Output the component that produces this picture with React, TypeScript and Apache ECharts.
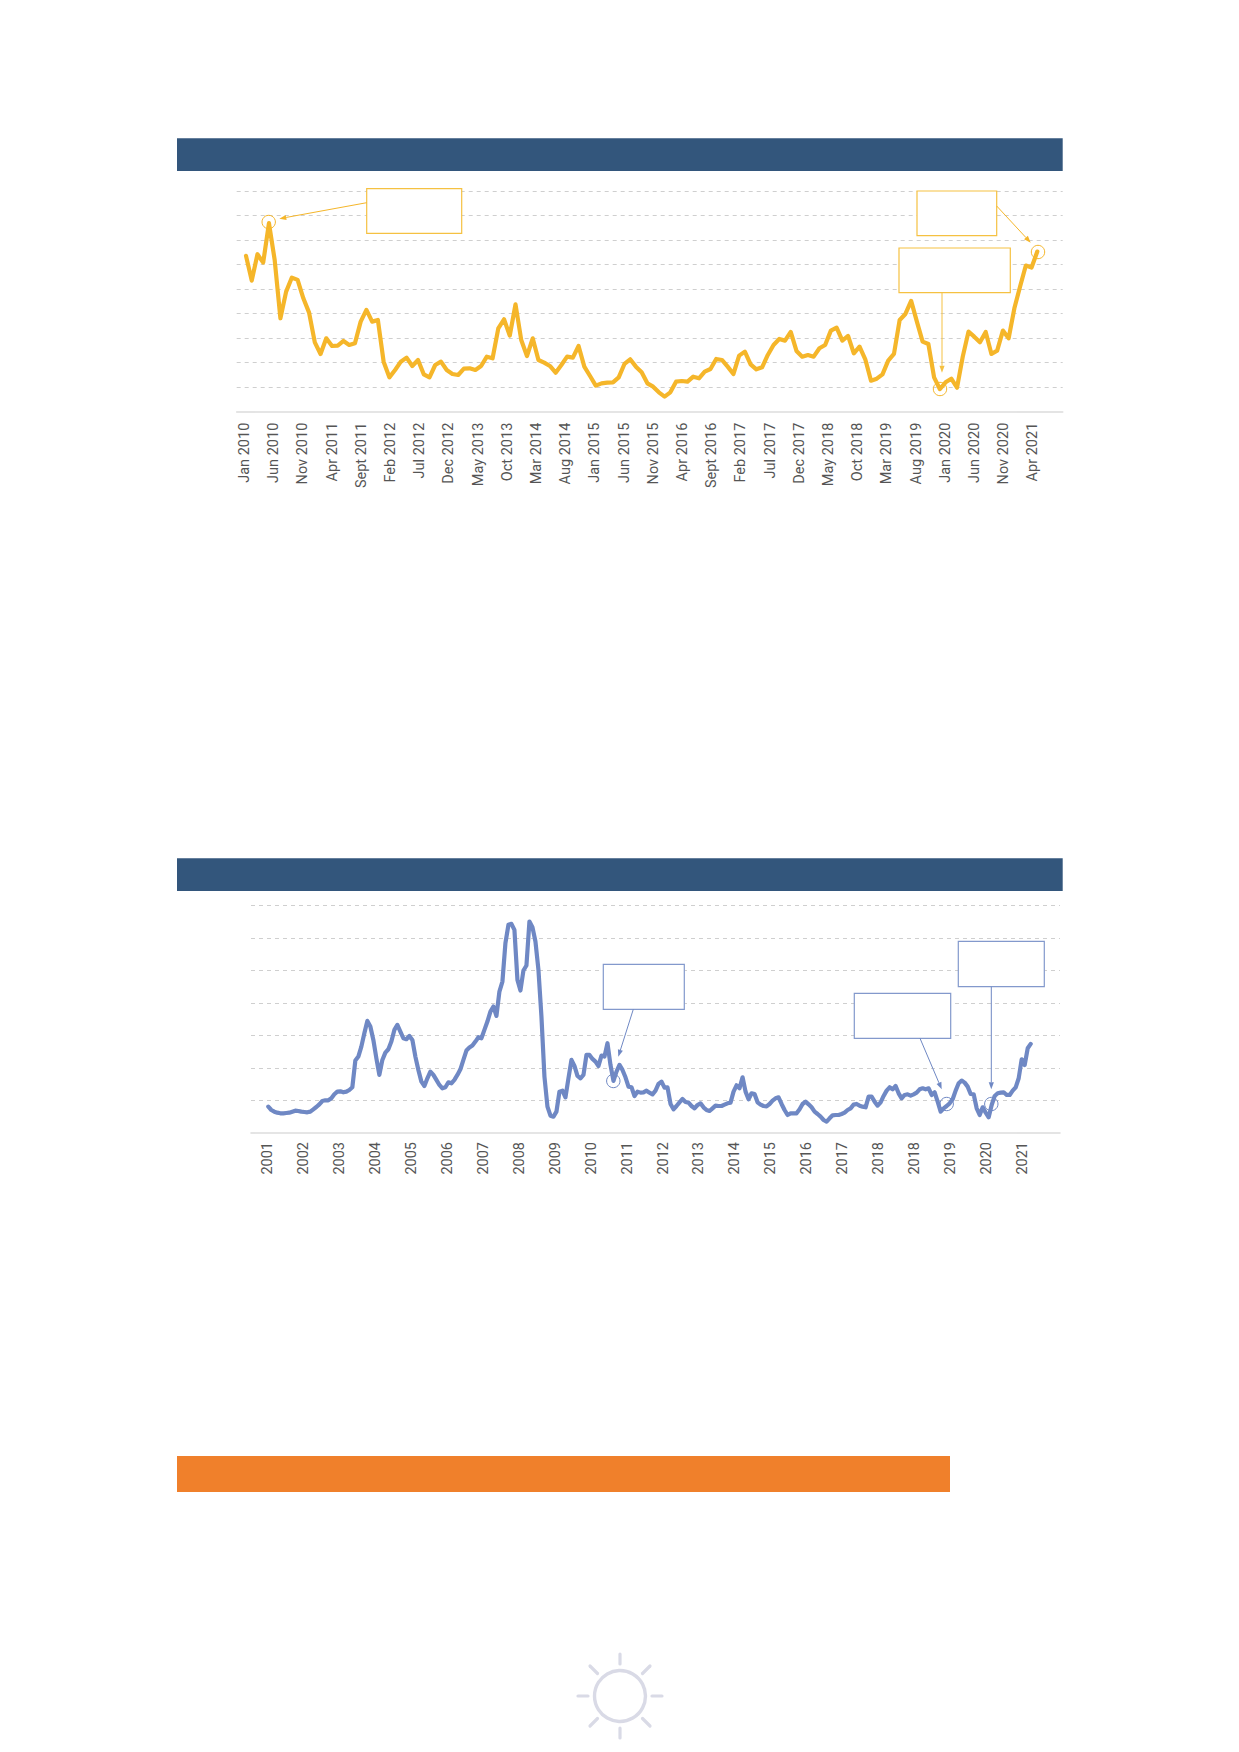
import React, { useEffect, useRef } from "react";
import * as echarts from "echarts";

const priceMonths = ["Jan 2010","Jun 2010","Nov 2010","Apr 2011","Sept 2011","Feb 2012","Jul 2012","Dec 2012","May 2013","Oct 2013","Mar 2014","Aug 2014","Jan 2015","Jun 2015","Nov 2015","Apr 2016","Sept 2016","Feb 2017","Jul 2017","Dec 2017","May 2018","Oct 2018","Mar 2019","Aug 2019","Jan 2020","Jun 2020","Nov 2020","Apr 2021"];

// The y tick labels are blank in the reference: values are on a relative scale (height above the axis).
const goldValues = [467,393,472,447,565,455,280,360,402,395,340,297,208,173,220,197,198,212,200,205,270,305,270,275,
150,103,125,150,162,137,155,112,103,140,150,125,113,110,129,130,125,137,165,160,250,277,228,322,215,167,220,155,147,137,117,140,165,162,197,135,107,78,85,87,88,103,143,157,
135,118,85,75,58,45,58,90,92,90,105,100,120,128,158,155,135,113,168,180,142,127,133,170,200,218,213,239,182,165,170,165,190,200,243,252,213,227,175,195,157,93,99,112,153,173,275,293,332,270,210,203,103,68,88,99,72,165,240,225,208,239,173,183,243,220,310,375,438,432,480];

const yearLabels = ["2001","2002","2003","2004","2005","2006","2007","2008","2009","2010","2011","2012","2013","2014","2015","2016","2017","2018","2018","2019","2020","2021"];

const blueValues = [79,69,64,61,59,59,60,61,64,67,66,64,63,62,64,71,78,86,96,98,98,104,116,124,125,122,124,129,
137,217,229,259,299,336,319,279,224,174,219,241,251,274,309,324,304,284,281,291,279,229,189,154,141,164,184,174,159,144,134,137,152,149,159,174,191,219,247,256,262,274,287,284,309,334,364,379,351,424,454,569,624,627,609,459,427,487,502,634,617,574,489,349,169,79,52,49,64,124,127,107,164,219,201,171,164,174,234,234,222,214,201,232,229,269,204,156,184,204,189,167,139,
137,111,124,121,122,127,121,116,127,147,154,136,137,87,71,81,92,102,93,91,81,74,84,89,77,69,66,74,82,81,81,85,89,91,124,143,134,167,124,101,119,117,92,85,81,80,87,97,104,107,87,69,54,59,59,59,71,87,94,86,77,64,57,49,39,34,44,53,54,54,57,61,69,74,85,87,82,79,77,109,109,94,82,92,111,127,137,131,141,119,104,114,116,112,116,121,131,134,131,134,114,122,94,64,74,81,89,101,127,149,157,151,139,117,116,74,54,77,61,47,84,111,119,121,122,114,114,127,137,164,221,204,254,267];

const NAVY = "#33567C";
const ORANGE = "#F0802B";
const GOLD = "#F5B62A";
const BLUE = "#6F88C4";
const FONT = "Roboto, 'Liberation Sans', sans-serif";

type Pt = [number, number];

function arrow(from: Pt, to: Pt, color: string) {
  const a = Math.atan2(to[1] - from[1], to[0] - from[0]);
  const len = 7, half = 2.6;
  const bx = to[0] - len * Math.cos(a), by = to[1] - len * Math.sin(a);
  const nx = -Math.sin(a) * half, ny = Math.cos(a) * half;
  return [
    { type: "line", z: 20, shape: { x1: from[0], y1: from[1], x2: bx, y2: by }, style: { stroke: color, lineWidth: 1 } },
    { type: "polygon", z: 20, shape: { points: [to, [bx + nx, by + ny], [bx - nx, by - ny]] }, style: { fill: color } },
  ];
}
function box(x1: number, y1: number, x2: number, y2: number, color: string) {
  return { type: "rect", z: 15, shape: { x: x1, y: y1, width: x2 - x1, height: y2 - y1 }, style: { fill: "#fff", stroke: color, lineWidth: 1.2 } };
}
function ringMark(cx: number, cy: number, color: string) {
  return { type: "circle", z: 1, shape: { cx, cy, r: 6.7 }, style: { fill: "none", stroke: color, lineWidth: 1 } };
}
function band(x1: number, y1: number, x2: number, y2: number, fill: string) {
  return { type: "rect", z: 1, shape: { x: x1, y: y1, width: x2 - x1, height: y2 - y1 }, style: { fill } };
}
function sun(cx: number, cy: number) {
  const c = "#D9DAE6";
  const ray = (x1: number, y1: number, x2: number, y2: number) => ({
    type: "line", z: 1, shape: { x1: cx + x1, y1: cy + y1, x2: cx + x2, y2: cy + y2 },
    style: { stroke: c, lineWidth: 3.2, lineCap: "round" },
  });
  return [
    { type: "circle", z: 1, shape: { cx, cy, r: 25.5 }, style: { fill: "none", stroke: c, lineWidth: 3.4 } },
    ray(0, -42, 0, -32), ray(0, 32, 0, 42), ray(-42, 0, -32, 0), ray(32, 0, 42, 0),
    ray(-30, -30, -22.5, -22.5), ray(30, -30, 22.5, -22.5), ray(-30, 30, -22.5, 22.5), ray(30, 30, 22.5, 22.5),
  ];
}

const W = 1239, H = 1752;

function gridAt(x1: number, x2: number, top: number, bottom: number) {
  return { left: x1, width: x2 - x1, top, height: bottom - top, containLabel: false };
}

function panel(opts: {
  base: number; frame: [number, number]; top: number; bottom: number;
  line: [number, number]; labels: [number, number]; yMax: number; yStep: number;
  values: number[]; cats: string[]; color: string; margin: number;
}) {
  const { base, frame, top, bottom, line, labels, yMax, yStep, values, cats, color, margin } = opts;
  const grid = [gridAt(frame[0], frame[1], top, bottom), gridAt(line[0], line[1], top, bottom), gridAt(labels[0], labels[1], top, bottom)];
  const xAxis = [
    { type: "value", gridIndex: base, min: 0, max: 1, axisLabel: { show: false }, axisTick: { show: false }, splitLine: { show: false }, axisLine: { show: true, onZero: false, lineStyle: { color: "#DCDCDC", width: 1.6 } } },
    { type: "category", gridIndex: base + 1, boundaryGap: false, data: values.map((_, i) => String(i)), show: false },
    { type: "category", gridIndex: base + 2, boundaryGap: false, data: cats, axisLine: { show: false }, axisTick: { show: false },
      axisLabel: { interval: 0, rotate: 90, margin, color: "#555555", fontFamily: FONT, fontSize: 14.5 } },
  ];
  const hidden = { type: "value", min: 0, max: yMax, interval: yStep, show: false };
  const yAxis = [
    { type: "value", gridIndex: base, min: 0, max: yMax, interval: yStep, axisLabel: { show: false }, axisTick: { show: false }, axisLine: { show: false },
      splitLine: { show: true, showMinLine: false, lineStyle: { color: "#CFCFCF", type: [4, 4], width: 1 } } },
    { ...hidden, gridIndex: base + 1 },
    { ...hidden, gridIndex: base + 2 },
  ];
  const series = [{ type: "line", xAxisIndex: base + 1, yAxisIndex: base + 1, data: values, symbol: "none", silent: true, z: 5,
    lineStyle: { color, width: 4.2, join: "round", cap: "round" } }];
  return { grid, xAxis, yAxis, series };
}

export default function App() {
  const ref = useRef<HTMLDivElement>(null);
  useEffect(() => {
    if (!ref.current) return;
    const chart = echarts.init(ref.current, undefined, { renderer: "svg" });
    const p1 = panel({ base: 0, frame: [236.7, 1062.7], top: 191, bottom: 411.7, line: [246, 1037.3], labels: [244.5, 1032.9], yMax: 661.5, yStep: 73.5, values: goldValues, cats: priceMonths, color: GOLD, margin: 11 });
    const p2 = panel({ base: 3, frame: [251, 1060], top: 905.3, bottom: 1133, line: [268.3, 1030.7], labels: [267.9, 1022.2], yMax: 682.5, yStep: 97.5, values: blueValues, cats: yearLabels, color: BLUE, margin: 9 });
    const LG = "#F5C142", LB = "#8399CC";
    const graphic = [
      band(177, 138.3, 1062.7, 171, NAVY), band(177, 858.3, 1062.7, 891, NAVY), band(177, 1456, 950, 1492, ORANGE),
      ...sun(620, 1696),
      ringMark(268.7, 222, GOLD), ringMark(1038, 252, GOLD), ringMark(940, 389, GOLD),
      box(366.7, 188.7, 461.7, 233.3, LG), box(917, 191, 996.7, 235.7, LG), box(899, 248, 1010.3, 292.7, LG),
      ...arrow([366.7, 202.7], [279.3, 218.7], GOLD), ...arrow([996.7, 206], [1030.7, 242.7], GOLD), ...arrow([942, 292.7], [942, 372.7], LG),
      ringMark(613.3, 1081, BLUE), ringMark(946.7, 1104, BLUE), ringMark(991.3, 1104, BLUE),
      box(603.3, 964.3, 684.3, 1009.3, LB), box(854.3, 993.3, 950.7, 1038.3, LB), box(958.3, 941.3, 1044.3, 986.7, LB),
      ...arrow([633.3, 1009.3], [618.3, 1056.7], BLUE), ...arrow([920, 1038.3], [941.7, 1089.3], BLUE), ...arrow([991.3, 986.7], [991.3, 1089.3], BLUE),
    ];
    chart.setOption({
      animation: false,
      backgroundColor: "#fff",
      grid: [...p1.grid, ...p2.grid],
      xAxis: [...p1.xAxis, ...p2.xAxis],
      yAxis: [...p1.yAxis, ...p2.yAxis],
      series: [...p1.series, ...p2.series],
      graphic,
    });
    return () => chart.dispose();
  }, []);
  return <div ref={ref} style={{ position: "absolute", left: 0, top: 0, width: W, height: H }} />;
}
